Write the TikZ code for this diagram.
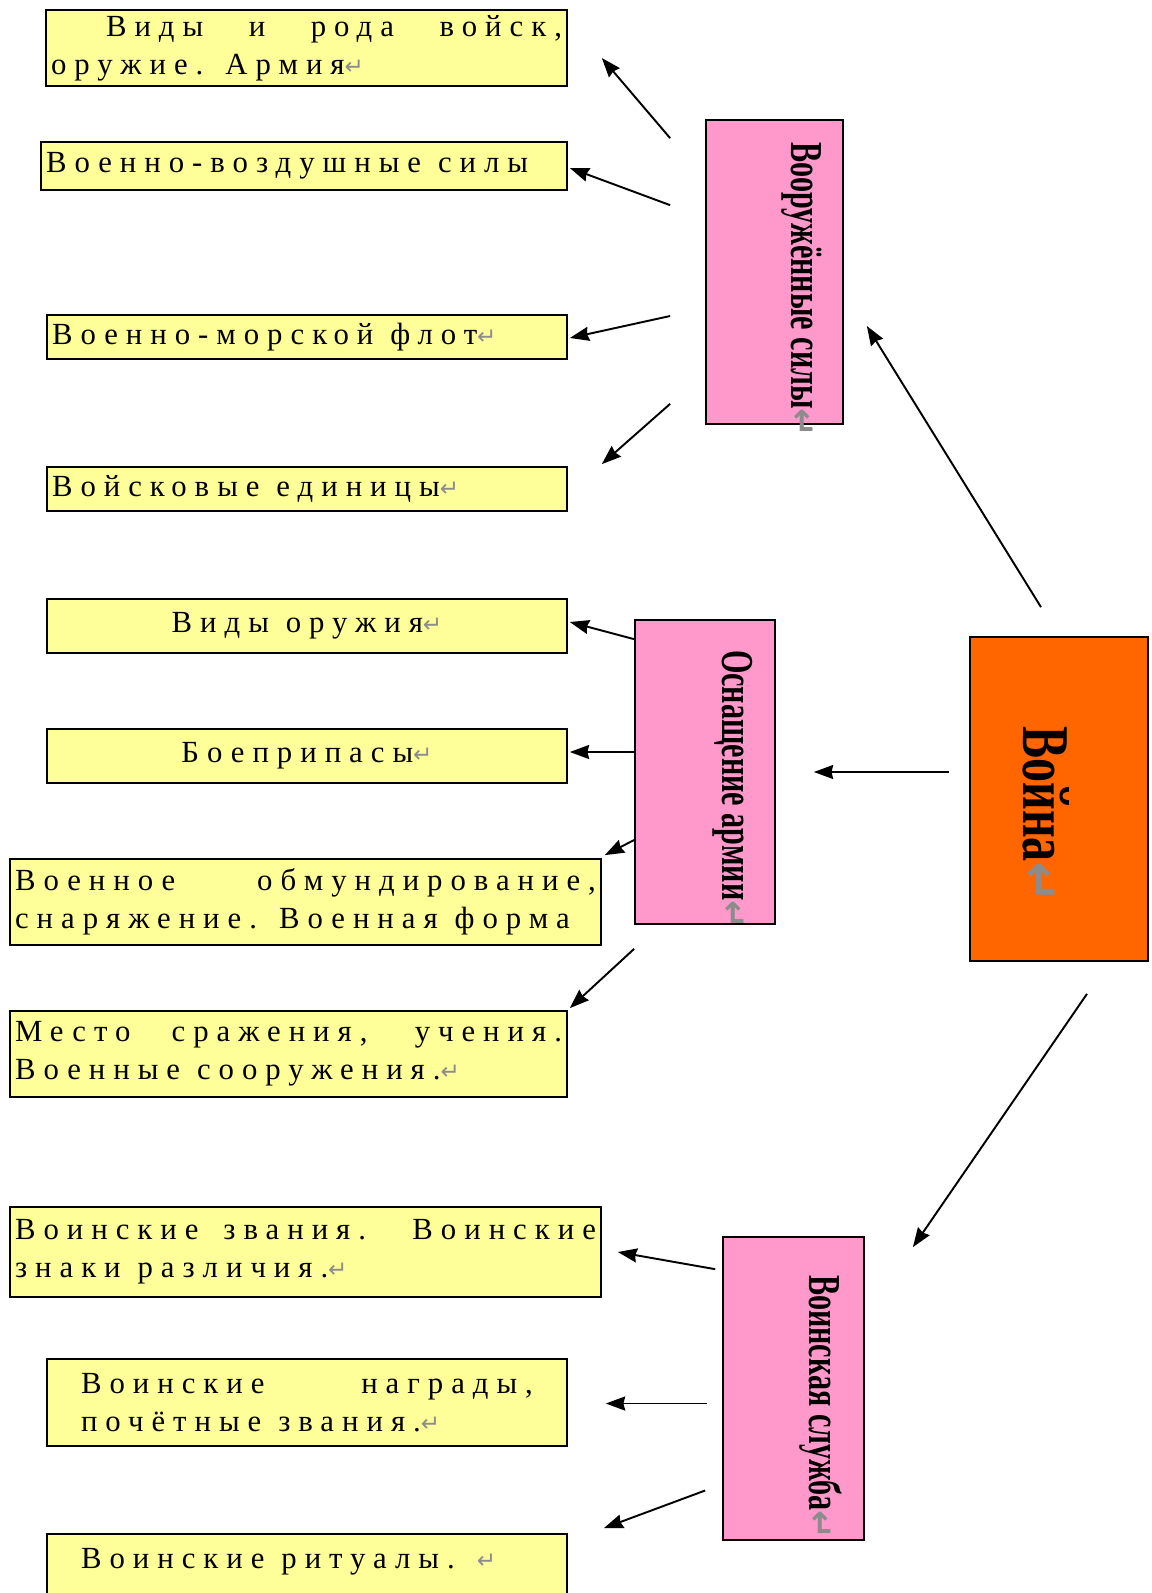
\documentclass[tikz,border=0pt]{standalone}
\usepackage{fontspec}
\setmainfont{Liberation Serif}
\newfontfamily\boxfont[LetterSpace=26]{Liberation Serif}
\newfontfamily\vfont[FakeStretch=0.66]{Liberation Serif}
\newfontfamily\wfont[FakeStretch=0.72]{Liberation Serif}
\newfontfamily\pfont{DejaVu Sans}
\usetikzlibrary{arrows.meta,positioning,calc}
\definecolor{boxyellow}{HTML}{FFFF99}
\definecolor{boxpink}{HTML}{FF99CC}
\definecolor{boxorange}{HTML}{FF6600}
\newcommand{\pmark}{{\pfont\color{black!45}\scalebox{0.75}{↵}}}
\newcommand{\vtitle}[2]{\hspace*{1.1cm}\rotatebox{-90}{\makebox[#1][l]{#2\pmark}}}
\newcommand{\boxtext}{\boxfont\fontsize{17.5pt}{21.5pt}\selectfont\spaceskip=0.55em plus 0.5em minus 0.1em\relax}

\begin{document}
\begin{tikzpicture}[
    x=0.02cm, y=-0.02cm,
    ybox/.style={rectangle, draw=black, line width=1pt, fill=boxyellow, inner xsep=0.1cm, inner ysep=0pt, font=\boxtext},
    pinkbox/.style={rectangle, draw=black, line width=1pt, fill=boxpink, inner sep=0pt, font=\vfont\bfseries\fontsize{26pt}{30pt}\selectfont},
    warbox/.style={rectangle, draw=black, line width=1pt, fill=boxorange, inner sep=0pt, font=\wfont\bfseries\fontsize{38pt}{42pt}\selectfont},
    arrow/.style={->, >={Stealth[length=11pt,width=8pt,inset=1pt]}, line width=1.1pt}
]
\useasboundingbox (0,0) rectangle (1152,1593);

% Main node
\node[warbox, minimum width=3.56cm, minimum height=6.48cm] (war) at (1059,799) {\rotatebox{-90}{\hspace*{0.64cm}Война\pmark}\hspace*{0.52cm}};

% Categories
\node[pinkbox, minimum width=2.74cm, minimum height=6.08cm] (arm) at (774.5,272) {\vtitle{5.2cm}{Вооружённые силы}};
\node[pinkbox, minimum width=2.8cm, minimum height=6.08cm] (osn) at (705,772) {\vtitle{4.88cm}{Оснащение армии}};
\node[pinkbox, minimum width=2.82cm, minimum height=6.06cm] (slu) at (793.5,1388.5) {\vtitle{4.54cm}{Воинская служба}};

% Topics - armed forces
\node[ybox, text width=10.22cm, minimum height=1.52cm, align=justify] (vidy) at (306.5,48) {\hspace*{1.1cm}Виды и рода войск,\linebreak оружие. Армия\pmark};
\node[ybox, text width=10.32cm, minimum height=0.96cm, align=flush left] (vvs) at (304,166) {Военно-воздушные силы};
\node[ybox, text width=10.2cm, minimum height=0.88cm, align=flush left] (vmf) at (307,337) {Военно-морской флот\pmark};
\node[ybox, text width=10.2cm, minimum height=0.88cm, align=flush left] (edin) at (307,489) {Войсковые единицы\pmark};

% Topics - equipment
\node[ybox, text width=10.2cm, minimum height=1.08cm, align=flush center] (oruzh) at (307,626) {Виды оружия\pmark};
\node[ybox, text width=10.2cm, minimum height=1.08cm, align=flush center] (boepr) at (307,756) {Боеприпасы\pmark};
\node[ybox, text width=11.62cm, minimum height=1.72cm, align=justify] (forma) at (305.5,902) {Военное обмундирование,\linebreak снаряжение. Военная форма};
\node[ybox, text width=10.94cm, minimum height=1.72cm, align=justify] (mesto) at (288.5,1054) {Место сражения, учения.\linebreak Военные сооружения.\pmark};

% Topics - service
\node[ybox, text width=11.62cm, minimum height=1.8cm, align=justify] (zvan) at (305.5,1252) {Воинские звания. Воинские\linebreak знаки различия.\pmark};
\node[ybox, text width=9.04cm, minimum width=10.4cm, minimum height=1.74cm, align=justify] (nagr) at (307,1402.5) {Воинские награды,\linebreak почётные звания.\pmark};
\node[ybox, text width=9.04cm, minimum width=10.4cm, minimum height=1.72cm, align=flush left] (ritual) at (307,1577) {\raisebox{0.18cm}[0pt][0pt]{Воинские ритуалы. \pmark}};

% Arrows from Война
\draw[arrow] ([shift={(-18,-29)}]war.north) -- ([shift={(23,54)}]arm.east);
\draw[arrow] ([shift={(-20,-27)}]war.west) -- ([shift={(38,0)}]osn.east);
\draw[arrow] ([shift={(28,32)}]war.south) -- ([shift={(48,11)}]slu.north east);

% Arrows from Вооружённые силы
\draw[arrow] ([shift={(-35,19)}]arm.north west) -- ([shift={(34,10)}]vidy.east);
\draw[arrow] ([shift={(-35,86)}]arm.north west) -- ([shift={(2,2)}]vvs.east);
\draw[arrow] ([shift={(-35,44)}]arm.west) -- ([shift={(2,1)}]vmf.east);
\draw[arrow] ([shift={(-35,-21)}]arm.south west) -- ([shift={(34,-2)}]edin.north east);

% Arrows from Оснащение армии
\draw[arrow] ([shift={(0,20)}]osn.north west) -- ([shift={(2,-4)}]oruzh.east);
\draw[arrow] ([shift={(0,-20)}]osn.west) -- ([shift={(2,-4)}]boepr.east);
\draw[arrow] ([shift={(0,68)}]osn.west) -- ([shift={(3,-3)}]forma.north east);
\draw[arrow] ([shift={(0,24)}]osn.south west) -- ([shift={(2,-2)}]mesto.north east);

% Arrows from Воинская служба
\draw[arrow] ([shift={(-7,33)}]slu.north west) -- ([shift={(16,0)}]zvan.east);
\draw[arrow] ([shift={(-15,15)}]slu.west) -- ([shift={(38,1)}]nagr.east);
\draw[arrow] ([shift={(-17,102)}]slu.west) -- ([shift={(36,-5)}]ritual.north east);

\end{tikzpicture}
\end{document}
